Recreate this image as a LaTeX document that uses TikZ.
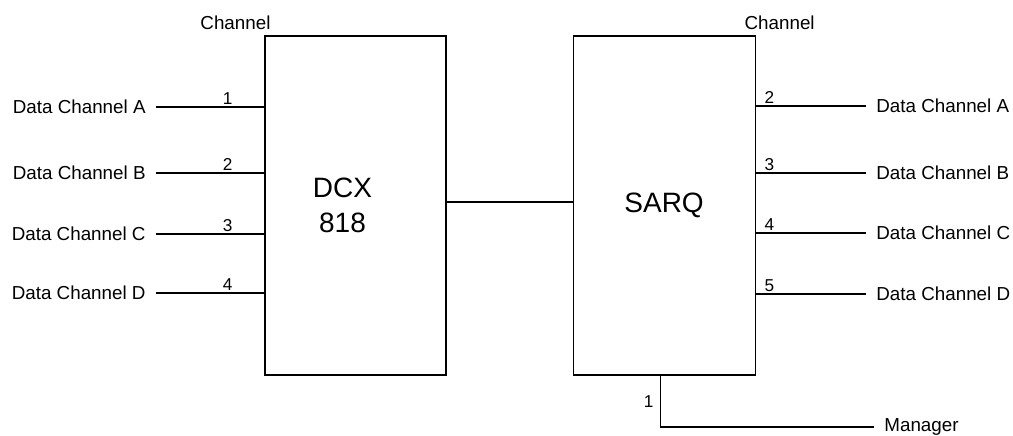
\documentclass[tikz,border=0pt]{standalone}
\usepackage{fontspec}
\setmainfont{Liberation Sans}
\usetikzlibrary{positioning}

\begin{document}
\begin{tikzpicture}[
  x=0.5pt, y=0.5pt,
  node distance=63pt,
  box/.style={draw, line width=0.55pt, minimum width=90.5pt, minimum height=169.5pt, inner sep=0pt},
  lbl/.style={font=\fontsize{9.4}{11}\selectfont, inner sep=5pt},
  num/.style={font=\fontsize{8.6}{10}\selectfont, inner sep=1pt},
  wire/.style={line width=0.55pt}
]
\useasboundingbox (0,0) rectangle (1013,435);

% the two units
\node[box, label={[align=center, xshift=-6.5pt, font=\fontsize{14}{17.5}\selectfont]center:{DCX\\818}}](dcx) at (355.5,229.5){};
\node[box, right=of dcx, minimum width=91pt, font=\fontsize{14}{17.5}\selectfont](sarq){SARQ};

\node[lbl, anchor=base](chleft) at ([xshift=-14.5pt, yshift=3pt]dcx.north west){Channel};
\node[lbl, anchor=base](chright) at ([xshift=12pt, yshift=3pt]sarq.north east){Channel};

% left side channels
\node[lbl, anchor=east](la) at (156,328){Data Channel A};
\node[lbl, anchor=east](lb) at (156,262){Data Channel B};
\node[lbl, anchor=east](lc) at (156,201){Data Channel C};
\node[lbl, anchor=east](ld) at (156,142){Data Channel D};

\draw[wire] (la) -- node[num, above, pos=0.66]{1} (la -| dcx.west);
\draw[wire] (lb) -- node[num, above, pos=0.66]{2} (lb -| dcx.west);
\draw[wire] (lc) -- node[num, above, pos=0.66]{3} (lc -| dcx.west);
\draw[wire] (ld) -- node[num, above, pos=0.66]{4} (ld -| dcx.west);

% right side channels
\node[lbl, anchor=west](ra) at (866,329){Data Channel A};
\node[lbl, anchor=west](rb) at (866,262){Data Channel B};
\node[lbl, anchor=west](rc) at (866,202){Data Channel C};
\node[lbl, anchor=west](rd) at (866,141){Data Channel D};

\draw[wire] (ra -| sarq.east) -- node[num, above, pos=0.125]{2} (ra);
\draw[wire] (rb -| sarq.east) -- node[num, above, pos=0.125]{3} (rb);
\draw[wire] (rc -| sarq.east) -- node[num, above, pos=0.125]{4} (rc);
\draw[wire] (rd -| sarq.east) -- node[num, above, pos=0.125]{5} (rd);

% link and manager
\draw[wire] ([yshift=1.75pt]dcx.east) -- ([yshift=1.75pt]sarq.west);

\node[lbl, anchor=west](mgr) at (874,8){Manager};
\draw[wire] ([xshift=-2pt]sarq.south) |- node[num, left, pos=0.25, inner sep=3pt]{1} (mgr);

\end{tikzpicture}
\end{document}
